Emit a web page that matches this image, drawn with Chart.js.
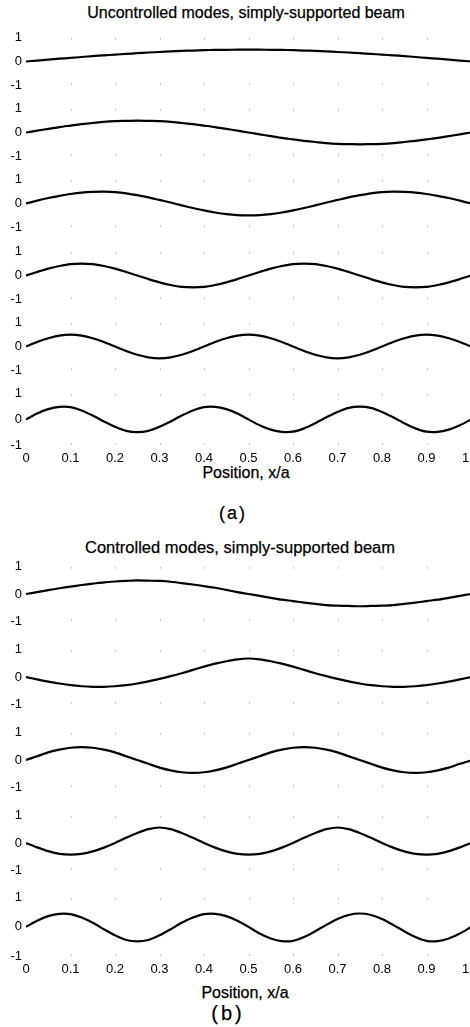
<!DOCTYPE html>
<html>
<head>
<meta charset="utf-8">
<script src="https://cdn.jsdelivr.net/npm/chart.js@4.4.1/dist/chart.umd.min.js"></script>
<style>
  html, body { margin: 0; padding: 0; background: #fff; }
  body { width: 470px; height: 1027px; overflow: hidden; position: relative;
         font-family: "Liberation Sans", Arial, sans-serif; color: #000; }
  .lbl { position: absolute; transform: translate(-50%, -50%); white-space: nowrap;
         -webkit-text-stroke: 0.25px #000; }
  canvas { position: absolute; left: 0; }
</style>
</head>
<body>
<div class="lbl" style="left:246px;top:13px;font-size:16px">Uncontrolled modes, simply-supported beam</div>
<div class="lbl" style="left:246px;top:473px;font-size:16px">Position, x/a</div>
<div class="lbl" style="left:233px;top:513px;font-size:18px;letter-spacing:2px">(a)</div>
<div class="lbl" style="left:240px;top:547px;font-size:16.5px">Controlled modes, simply-supported beam</div>
<div class="lbl" style="left:245px;top:993px;font-size:16px">Position, x/a</div>
<div class="lbl" style="left:228px;top:1013px;font-size:20px;letter-spacing:3px">(b)</div>

<script>
// Position along the beam, x/a
const positions = [0, 0.025, 0.05, 0.075, 0.1, 0.125, 0.15, 0.175, 0.2, 0.225,
  0.25, 0.275, 0.3, 0.325, 0.35, 0.375, 0.4, 0.425, 0.45, 0.475,
  0.5, 0.525, 0.55, 0.575, 0.6, 0.625, 0.65, 0.675, 0.7, 0.725,
  0.75, 0.775, 0.8, 0.825, 0.85, 0.875, 0.9, 0.925, 0.95, 0.975, 1];

const xTickValues = [0.1, 0.2, 0.3, 0.4, 0.5, 0.6, 0.7, 0.8, 0.9];

// (a) uncontrolled modes
const uncontrolled1 = [0, .04, .08, .12, .15, .19, .23, .26, .29, .32, .35, .38, .40, .43, .45, .46, .48, .49, .49, .50,
  .50, .50, .49, .49, .48, .46, .45, .43, .40, .38, .35, .32, .29, .26, .23, .19, .15, .12, .08, .04, 0];
const uncontrolled2 = [0, .08, .15, .23, .29, .35, .40, .45, .48, .49, .50, .49, .48, .45, .40, .35, .29, .23, .15, .08,
  0, -.08, -.15, -.23, -.29, -.35, -.40, -.45, -.48, -.49, -.50, -.49, -.48, -.45, -.40, -.35, -.29, -.23, -.15, -.08, 0];
const uncontrolled3 = [0, .12, .23, .32, .40, .46, .49, .50, .48, .43, .35, .26, .15, .04, -.08, -.19, -.29, -.38, -.45, -.49,
  -.50, -.49, -.45, -.38, -.29, -.19, -.08, .04, .15, .26, .35, .43, .48, .50, .49, .46, .40, .32, .23, .12, 0];
const uncontrolled4 = [0, .15, .29, .40, .48, .50, .48, .40, .29, .15, 0, -.15, -.29, -.40, -.48, -.50, -.48, -.40, -.29, -.15,
  0, .15, .29, .40, .48, .50, .48, .40, .29, .15, 0, -.15, -.29, -.40, -.48, -.50, -.48, -.40, -.29, -.15, 0];
const uncontrolled5 = [0, .19, .35, .46, .50, .46, .35, .19, 0, -.19, -.35, -.46, -.50, -.46, -.35, -.19, 0, .19, .35, .46,
  .50, .46, .35, .19, 0, -.19, -.35, -.46, -.50, -.46, -.35, -.19, 0, .19, .35, .46, .50, .46, .35, .19, 0];
const uncontrolled6 = [0, .23, .40, .49, .48, .35, .15, -.08, -.29, -.45, -.50, -.45, -.29, -.08, .15, .35, .48, .49, .40, .23,
  0, -.23, -.40, -.49, -.48, -.35, -.15, .08, .29, .45, .50, .45, .29, .08, -.15, -.35, -.48, -.49, -.40, -.23, 0];

// (b) controlled modes
const controlled1 = [0, .07, .14, .21, .27, .33, .38, .43, .46, .48, .50, .49, .48, .45, .40, .35, .29, .23, .15, .07,
  0, -.07, -.14, -.21, -.26, -.32, -.36, -.41, -.43, -.44, -.45, -.44, -.43, -.41, -.36, -.32, -.26, -.21, -.14, -.07, 0];
const controlled2 = [0, -.09, -.17, -.24, -.30, -.34, -.36, -.36, -.34, -.30, -.24, -.16, -.07, .03, .14, .26, .38, .49, .58, .65,
  .68, .65, .58, .49, .38, .26, .14, .03, -.07, -.16, -.24, -.30, -.34, -.36, -.36, -.34, -.30, -.24, -.17, -.09, 0];
const controlled3 = [0, .14, .28, .38, .45, .47, .45, .38, .28, .14, 0, -.14, -.28, -.38, -.45, -.47, -.45, -.38, -.28, -.14,
  0, .14, .28, .38, .45, .47, .45, .38, .28, .14, 0, -.14, -.28, -.38, -.45, -.47, -.45, -.38, -.28, -.14, -.02];
const controlled4 = [0, -.16, -.30, -.40, -.43, -.40, -.31, -.17, 0, .19, .37, .51, .57, .51, .37, .19, 0, -.17, -.31, -.40,
  -.43, -.40, -.31, -.17, 0, .19, .37, .51, .57, .51, .37, .19, 0, -.17, -.31, -.40, -.43, -.40, -.30, -.16, 0];
const controlled5 = [0, .21, .37, .45, .44, .32, .14, -.08, -.29, -.45, -.50, -.45, -.29, -.08, .14, .32, .44, .45, .37, .21,
  0, -.23, -.40, -.49, -.48, -.35, -.15, .07, .27, .41, .46, .41, .27, .07, -.15, -.35, -.48, -.49, -.40, -.23, 0];

const FONT = '"Liberation Sans", Arial, sans-serif';
const PAD_TOP = 8;
const X_AXIS_H = 24;

// faint inside tick marks along the top and bottom of each axes box
const faintTicks = {
  id: 'faintTicks',
  afterDatasetsDraw(chart) {
    const { ctx, chartArea, scales } = chart;
    ctx.save();
    ctx.strokeStyle = '#c4c4c4';
    ctx.lineWidth = 1;
    xTickValues.forEach(v => {
      const px = Math.round(scales.x.getPixelForValue(v)) + 0.5;
      ctx.beginPath();
      ctx.moveTo(px, chartArea.top);
      ctx.lineTo(px, chartArea.top + 2);
      ctx.moveTo(px, chartArea.bottom - 2);
      ctx.lineTo(px, chartArea.bottom);
      ctx.stroke();
    });
    ctx.restore();
  }
};

function makeSubplot(values, top, height, showX) {
  const canvas = document.createElement('canvas');
  const canvasH = PAD_TOP + height + (showX ? X_AXIS_H : 8);
  canvas.width = 490;
  canvas.height = canvasH;
  canvas.style.width = '490px';
  canvas.style.height = canvasH + 'px';
  canvas.style.top = (top - PAD_TOP) + 'px';
  document.body.appendChild(canvas);

  new Chart(canvas, {
    type: 'line',
    data: {
      datasets: [{
        data: positions.map((x, i) => ({ x: x, y: values[i] })),
        borderColor: '#000',
        borderWidth: 2.2,
        pointRadius: 0,
        tension: 0.25,
        fill: false
      }]
    },
    options: {
      responsive: false,
      animation: false,
      devicePixelRatio: 1,
      layout: { padding: { top: PAD_TOP, bottom: showX ? 0 : 8, left: 0, right: 19 } },
      plugins: { legend: { display: false }, tooltip: { enabled: false } },
      scales: {
        x: {
          type: 'linear',
          min: 0,
          max: 1,
          display: showX,
          grid: { display: false, drawTicks: false },
          border: { display: false },
          ticks: { stepSize: 0.1, padding: 6, color: '#000', maxRotation: 0, autoSkip: false,
                   font: { size: 13, family: FONT } },
          afterFit: s => { s.height = showX ? X_AXIS_H : 0; }
        },
        y: {
          min: -1,
          max: 1,
          grid: { display: false, drawTicks: false },
          border: { display: false },
          ticks: { stepSize: 1, padding: 4, color: '#000', font: { size: 13, family: FONT } },
          afterFit: s => { s.width = 26; }
        }
      }
    },
    plugins: [faintTicks]
  });
}

// panel (a)
const seriesA = [uncontrolled1, uncontrolled2, uncontrolled3, uncontrolled4, uncontrolled5, uncontrolled6];
const topsA = [34, 105, 176, 248, 319, 390];
seriesA.forEach((s, i) => makeSubplot(s, topsA[i], 55, i === seriesA.length - 1));

// panel (b)
const seriesB = [controlled1, controlled2, controlled3, controlled4, controlled5];
const topsB = [563, 646, 729, 812, 894];
seriesB.forEach((s, i) => makeSubplot(s, topsB[i], 62, i === seriesB.length - 1));
</script>
</body>
</html>
